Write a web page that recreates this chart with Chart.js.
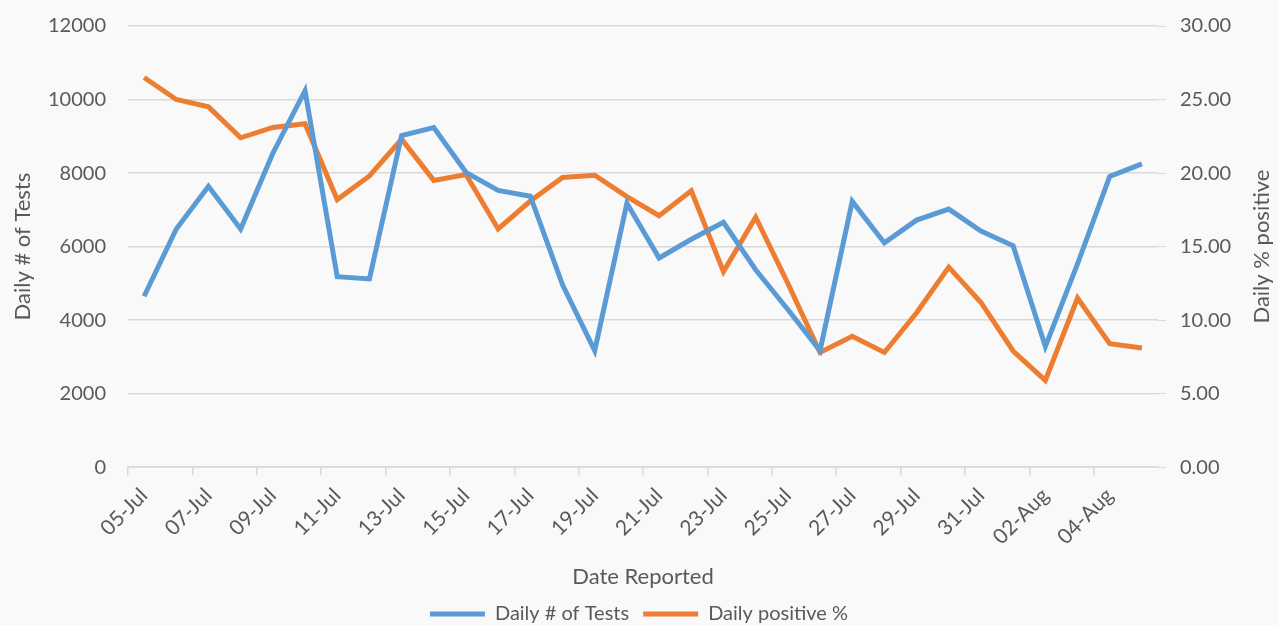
<!DOCTYPE html>
<html>
<head>
<meta charset="utf-8">
<script src="https://cdn.jsdelivr.net/npm/chart.js@4/dist/chart.umd.min.js"></script>
<style>
  html, body { margin: 0; padding: 0; background: #f9f9f9; overflow: hidden; }
  #wrap { width: 1278px; height: 642px; margin-top: -8px; }
</style>
</head>
<body>
<div id="wrap"><canvas id="testsChart" width="1278" height="642"></canvas></div>
<script>
const dates = ['05-Jul', '06-Jul', '07-Jul', '08-Jul', '09-Jul', '10-Jul', '11-Jul', '12-Jul',
    '13-Jul', '14-Jul', '15-Jul', '16-Jul', '17-Jul', '18-Jul', '19-Jul', '20-Jul',
    '21-Jul', '22-Jul', '23-Jul', '24-Jul', '25-Jul', '26-Jul', '27-Jul', '28-Jul',
    '29-Jul', '30-Jul', '31-Jul', '01-Aug', '02-Aug', '03-Aug', '04-Aug', '05-Aug'];

const dailyTests = [4650, 6480, 7640, 6480, 8540, 10240, 5180, 5120,
    9020, 9240, 8020, 7530, 7370, 4960, 3170, 7180,
    5690, 6200, 6660, 5370, 4290, 3170, 7230, 6100,
    6720, 7020, 6420, 6020, 3280, 5530, 7910, 8250];

const dailyPositive = [26.5, 25.0, 24.5, 22.4, 23.1, 23.35, 18.2, 19.8,
    22.3, 19.5, 19.9, 16.2, 18.1, 19.7, 19.85, 18.4,
    17.1, 18.8, 13.3, 17.0, 12.5, 7.8, 8.9, 7.8,
    10.5, 13.6, 11.2, 7.9, 5.9, 11.5, 8.4, 8.1];

const leftTicks = [0, 2000, 4000, 6000, 8000, 10000, 12000];
const rightTicks = [0, 5, 10, 15, 20, 25, 30];

const textColor = '#595959';
const fontFamily = 'Lato, "Open Sans", sans-serif';

// right axis title reads bottom-to-top like the left one
const rightTitle = {
    id: 'rightTitle',
    afterDraw(chart) {
        const c = chart.ctx;
        const area = chart.chartArea;
        c.save();
        c.translate(1262, (area.top + area.bottom) / 2);
        c.rotate(-Math.PI / 2);
        c.fillStyle = textColor;
        c.font = '22px ' + fontFamily;
        c.textAlign = 'center';
        c.textBaseline = 'middle';
        c.fillText('Daily % positive', 0, 0);
        c.restore();
    }
};

const ctx = document.getElementById('testsChart').getContext('2d');
new Chart(ctx, {
    type: 'line',
    data: {
        labels: dates,
        datasets: [
            {
                label: 'Daily # of Tests',
                data: dailyTests,
                borderColor: '#5b9bd5',
                backgroundColor: '#5b9bd5',
                borderWidth: 5,
                pointRadius: 0,
                tension: 0,
                yAxisID: 'y'
            },
            {
                label: 'Daily positive %',
                data: dailyPositive,
                borderColor: '#ed7d31',
                backgroundColor: '#ed7d31',
                borderWidth: 5,
                pointRadius: 0,
                tension: 0,
                yAxisID: 'y1'
            }
        ]
    },
    plugins: [rightTitle],
    options: {
        responsive: false,
        animation: false,
        layout: { padding: { top: 6, left: 0, right: 0, bottom: 0 } },
        plugins: {
            legend: {
                position: 'bottom',
                labels: {
                    color: textColor,
                    font: { family: fontFamily, size: 20 },
                    boxWidth: 55,
                    boxHeight: 5,
                    padding: 14,
                    generateLabels: (chart) => {
                        const items = Chart.defaults.plugins.legend.labels.generateLabels(chart);
                        items.forEach(it => { it.lineWidth = 0; });
                        return items;
                    }
                }
            },
            tooltip: { enabled: false }
        },
        scales: {
            x: {
                offset: true,
                grid: {
                    offset: true,
                    drawOnChartArea: false,
                    tickLength: 8,
                    color: (c) => (c.index % 2 === 0 ? '#d9d9d9' : 'rgba(0,0,0,0)'),
                    lineWidth: 1.5
                },
                border: { color: '#d9d9d9', width: 1.5 },
                ticks: {
                    color: textColor,
                    font: { family: fontFamily, size: 21 },
                    minRotation: 45,
                    maxRotation: 45,
                    autoSkip: false,
                    padding: 8,
                    callback: function (v, i) { return i % 2 === 0 ? this.getLabelForValue(v) : ''; }
                },
                title: {
                    display: true,
                    text: 'Date Reported',
                    color: textColor,
                    font: { family: fontFamily, size: 22 },
                    padding: { top: 6, bottom: 0 }
                }
            },
            y: {
                position: 'left',
                min: 0,
                max: 12000,
                afterBuildTicks: (axis) => { axis.ticks = leftTicks.map(v => ({ value: v })); },
                afterFit: (axis) => { axis.width = 128; },
                grid: { color: '#d9d9d9', lineWidth: 1.5, drawTicks: false },
                border: { display: false },
                ticks: {
                    color: textColor,
                    font: { family: fontFamily, size: 20 },
                    padding: 22,
                    callback: (v) => String(v)
                },
                title: {
                    display: true,
                    text: 'Daily # of Tests',
                    color: textColor,
                    font: { family: fontFamily, size: 22 },
                    padding: { top: 10, bottom: 6 }
                }
            },
            y1: {
                position: 'right',
                min: 0,
                max: 30,
                afterBuildTicks: (axis) => { axis.ticks = rightTicks.map(v => ({ value: v })); },
                afterFit: (axis) => { axis.width = 120; },
                grid: { drawOnChartArea: false, color: '#d9d9d9', tickLength: 8 },
                border: { display: false },
                ticks: {
                    color: textColor,
                    font: { family: fontFamily, size: 20 },
                    padding: 14,
                    callback: (v) => Number(v).toFixed(2)
                }
            }
        }
    }
});
</script>
</body>
</html>
